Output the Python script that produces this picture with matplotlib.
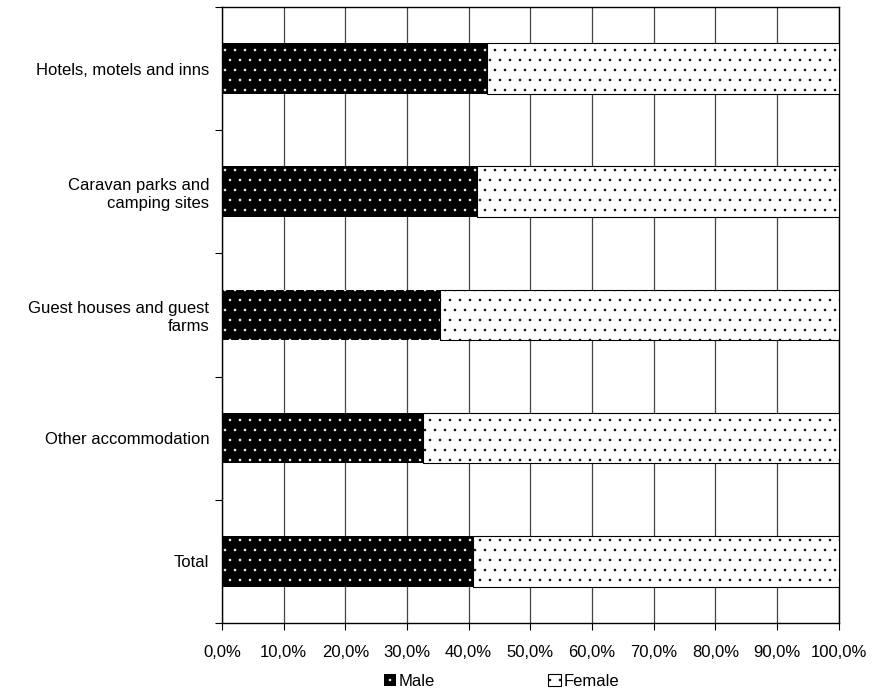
import matplotlib.pyplot as plt
import matplotlib.hatch
from matplotlib.ticker import FixedLocator, FuncFormatter

plt.rcParams['font.family'] = ['Liberation Sans', 'DejaVu Sans']
plt.rcParams['hatch.linewidth'] = 0.4


# finer dot lattice, like the dotted fill of the original (row count must be even)
def _dots_init(self, hatch, density):
    self.num_rows = hatch.count('.') * 10
    matplotlib.hatch.Circles.__init__(self, hatch, density)


matplotlib.hatch.SmallFilledCircles.__init__ = _dots_init

categories = ['Hotels, motels and inns', 'Caravan parks and\ncamping sites',
              'Guest houses and guest\nfarms', 'Other accommodation', 'Total']
male = [43.0, 41.3, 35.4, 32.6, 40.7]
female = [100 - m for m in male]

fig = plt.figure(figsize=(8.84, 6.93), dpi=100)
ax = fig.add_axes([0.2511, 0.101, 0.6977, 0.889])

ypos = list(range(len(categories)))[::-1]
b1 = ax.barh(ypos, male, height=0.41, color='black', edgecolor='white',
             hatch='.', linewidth=0, label='Male', zorder=3)
b2 = ax.barh(ypos, female, left=male, height=0.41, color='white', edgecolor='black',
             hatch='.', linewidth=0.8, label='Female', zorder=3)

ax.set_xlim(0, 100)
ax.set_ylim(-0.5, len(categories) - 0.5)
ax.set_xticks(range(0, 101, 10))
ax.xaxis.set_major_formatter(FuncFormatter(lambda v, p: ('%.1f%%' % v).replace('.', ',')))
ax.grid(axis='x', color='#444444', linewidth=0.9, zorder=0)

ax.set_yticks(ypos)
ax.set_yticklabels(categories, multialignment='right')
ax.yaxis.set_minor_locator(FixedLocator([y + 0.5 for y in range(-1, len(categories))]))
ax.tick_params(axis='y', which='major', length=0, pad=9, labelsize=12)
ax.tick_params(axis='y', which='minor', length=5, width=0.8)
ax.tick_params(axis='x', length=5, width=0.8, labelsize=12, pad=11)

for s in ax.spines.values():
    s.set_linewidth(1.0)
    s.set_color('black')

fig.legend(handles=[b1, b2], labels=['Male', 'Female'], loc='center',
           bbox_to_anchor=(0.567, 0.017), ncol=2, frameon=False, fontsize=12,
           handlelength=0.75, handleheight=0.75, handletextpad=0.15, columnspacing=6.8,
           borderpad=0)

fig.savefig('out.png', dpi=100)
